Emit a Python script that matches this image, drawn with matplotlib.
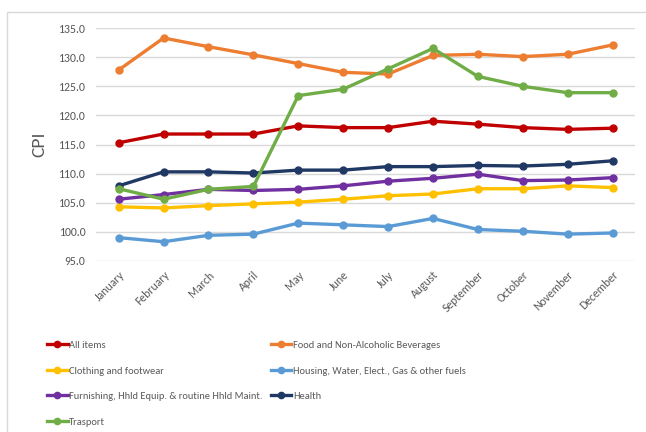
import matplotlib.pyplot as plt
from matplotlib.patches import Rectangle

months = ['January', 'February', 'March', 'April', 'May', 'June', 'July',
          'August', 'September', 'October', 'November', 'December']

all_items = [115.3, 116.8, 116.8, 116.8, 118.2, 117.9, 117.9, 119.0, 118.5, 117.9, 117.6, 117.8]
food = [127.8, 133.3, 131.8, 130.4, 128.9, 127.4, 127.1, 130.3, 130.5, 130.1, 130.5, 132.1]
clothing = [104.3, 104.1, 104.5, 104.8, 105.1, 105.6, 106.2, 106.5, 107.4, 107.4, 107.9, 107.6]
housing = [99.0, 98.3, 99.4, 99.6, 101.5, 101.2, 100.9, 102.3, 100.4, 100.1, 99.6, 99.8]
furnishing = [105.6, 106.4, 107.3, 107.1, 107.3, 107.9, 108.7, 109.2, 109.9, 108.8, 108.9, 109.3]
health = [107.9, 110.3, 110.3, 110.1, 110.6, 110.6, 111.2, 111.2, 111.4, 111.3, 111.6, 112.2]
transport = [107.4, 105.6, 107.3, 107.8, 123.4, 124.5, 128.0, 131.5, 126.7, 125.0, 123.9, 123.9]

series = [
    ('All items', all_items, '#C00000'),
    ('Food and Non-Alcoholic Beverages', food, '#ED7D31'),
    ('Clothing and footwear', clothing, '#FFC000'),
    ('Housing, Water, Elect., Gas & other fuels', housing, '#5B9BD5'),
    ('Furnishing, Hhld Equip. & routine Hhld Maint.', furnishing, '#7030A0'),
    ('Health', health, '#203864'),
    ('Trasport', transport, '#70AD47'),
]

plt.rcParams['font.family'] = ['Carlito', 'DejaVu Sans']

fig = plt.figure(figsize=(6.46, 4.32), dpi=100)
ax = fig.add_axes([0.149, 0.396, 0.834, 0.539])

x = list(range(len(months)))
handles = {}
for name, values, color in series:
    line, = ax.plot(x, values, color=color, linewidth=2.4, marker='o',
                    markersize=5, label=name, zorder=3)
    handles[name] = line

ax.set_xlim(-0.5, 11.5)
ax.set_ylim(95, 135)
ax.set_yticks([95, 100, 105, 110, 115, 120, 125, 130, 135])
ax.set_yticklabels([f'{v:.1f}' for v in ax.get_yticks()])
ax.set_xticks(x)
ax.set_xticklabels(months, rotation=45, ha='right', rotation_mode='anchor')
ax.tick_params(colors='#595959', labelsize=8.5, length=0)
ax.tick_params(axis='x', pad=6)
ax.tick_params(axis='y', pad=8)
ax.grid(axis='y', color='#D9D9D9', linewidth=1)
ax.set_axisbelow(True)
for s in ax.spines.values():
    s.set_visible(False)
ax.set_ylabel('CPI', color='#595959', fontsize=14, labelpad=8)

# legend fills columns first, so reorder to read row by row
order = ['All items', 'Clothing and footwear',
         'Furnishing, Hhld Equip. & routine Hhld Maint.', 'Trasport',
         'Food and Non-Alcoholic Beverages',
         'Housing, Water, Elect., Gas & other fuels', 'Health']
leg = fig.legend([handles[n] for n in order], order, loc='upper left',
                 bbox_to_anchor=(0.058, 0.233), ncol=2, frameon=False,
                 fontsize=7.5, handlelength=2.0, handletextpad=0.15,
                 columnspacing=0.75, labelspacing=1.56, markerscale=0.9)
for t in leg.get_texts():
    t.set_color('#595959')

fig.patches.append(Rectangle((7 / 646, -0.1), 1.0, 1 - 12 / 432 + 0.1,
                             transform=fig.transFigure, fill=False,
                             edgecolor='#D9D9D9', linewidth=1))

fig.savefig('out.png', dpi=100)
